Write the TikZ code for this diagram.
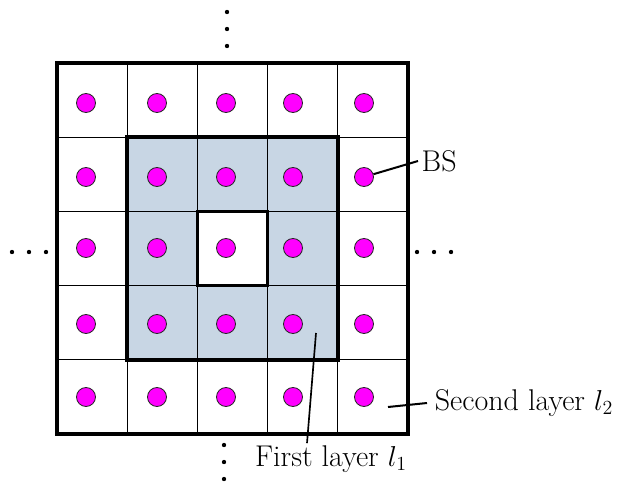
\documentclass[tikz,border=0pt]{standalone}
\usepackage{tikz}
\usetikzlibrary{arrows}
\definecolor{cellblue}{RGB}{200,214,228}
\definecolor{bsmag}{RGB}{255,0,255}

\begin{document}
\begin{tikzpicture}[x=0.6pt,y=-0.6pt,
		bs/.style={circle,draw=black!85,fill=bsmag,inner sep=0pt,minimum size=11.4pt,line width=0.5pt},
		dot/.style={circle,fill=black,inner sep=0pt,minimum size=2.6pt},
		lbl/.style={font=\fontsize{18}{21}\selectfont,inner sep=1pt}]
			\useasboundingbox (0,0) rectangle (621,483);
			
			% first layer
			
			\fill[cellblue] (127.2,137.2) rectangle (337.8,359.8);
			\fill[white] (197.4,211.4) rectangle (267.6,285.6);
			
			% grid
			
			\foreach \i in {1,...,4} {
				\pgfmathsetmacro{\gx}{57+\i*70.2}
				\pgfmathsetmacro{\gy}{63+\i*74.2}
				\draw[line width=0.6pt] (\gx,63) -- (\gx,434);
				\draw[line width=0.6pt] (57,\gy) -- (408,\gy);
			}
			\draw[line width=2.4pt] (57,63) rectangle (408,434);
			\draw[line width=2.2pt] (127.2,137.2) rectangle (337.8,359.8);
			\draw[line width=2.2pt] (197.4,211.4) rectangle (267.6,285.6);
			
			% BS
			
			\foreach \x [count=\i] in {86,157,226,293,364} {
				\foreach \y [count=\j] in {103,177,248,324,397} {
					\node[bs] (B\i\j) at (\x,\y) {};
				}
			}
			
			% dots
			
			\foreach \i in {1,2,3} {
				\pgfmathsetmacro{\d}{(\i-1)*17}
				\node[dot] (U\i) at (227,12+\d) {};
				\node[dot] (D\i) at (224,445+\d) {};
				\node[dot] (L\i) at (12+\d,252) {};
				\node[dot] (R\i) at (417+\d,252) {};
			}
			
			% labels
			
			\node[lbl,anchor=west,inner xsep=2pt] (bsl) at (418,161) {BS};
			\node[lbl,anchor=west,inner xsep=4.5pt] (sec) at (427,403) {Second layer $l_2$};
			\node[lbl,anchor=base] (fir) at (331,466) {First layer $l_1$};
			\coordinate (s2) at (388,407);
			\coordinate (f1) at (316,333);
			\draw[line width=1.2pt] (B52) -- (bsl.west);
			\draw[line width=1.2pt] (s2) -- (sec.west);
			\draw[line width=1pt] (f1) -- (fir.north -| 307,0);
		\end{tikzpicture}
\end{document}
